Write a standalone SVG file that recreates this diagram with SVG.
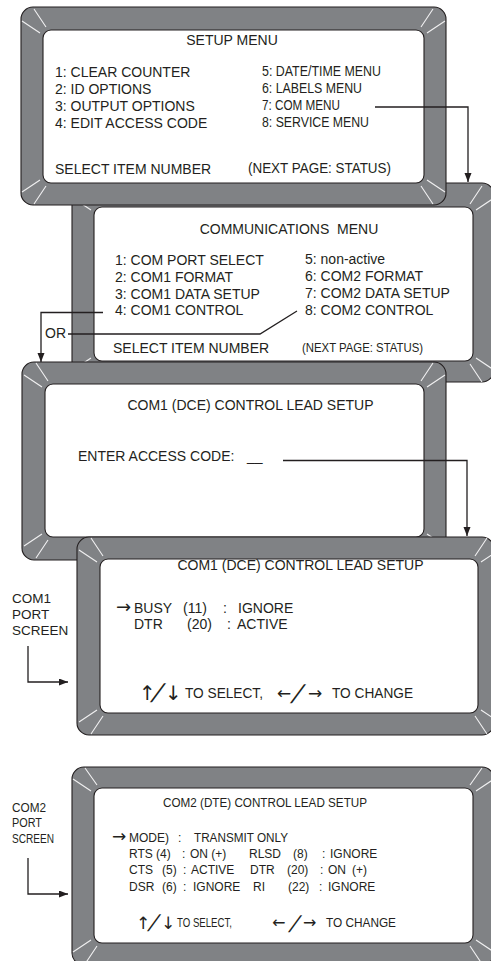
<svg xmlns="http://www.w3.org/2000/svg" width="491" height="961" viewBox="0 0 491 961">
<style>
.bz{fill:#808285;stroke:#231f20;stroke-width:1.1}
.sc{fill:#ffffff;stroke:#231f20;stroke-width:1.1}
.cl{fill:none;stroke:#f1f1f2;stroke-width:1.1}
text{font-family:"Liberation Sans",Arial,sans-serif;fill:#231f20}
.t{font-size:14px}
.s{font-size:12px}
.m{text-anchor:middle}
.ar{font-family:"DejaVu Sans",sans-serif}
.cn{fill:none;stroke:#231f20;stroke-width:1.3}
</style>
<defs>
<marker id="ah" markerUnits="userSpaceOnUse" markerWidth="10" markerHeight="8" refX="9" refY="3.5" orient="auto">
<path d="M0,0 L9,3.5 L0,7 z" fill="#231f20"/>
</marker>
</defs>
<rect width="491" height="961" fill="#ffffff"/>

<g id="screen-2">
<rect class="bz" x="72" y="183" width="422" height="199" rx="12"/>
<rect class="sc" x="94" y="207" width="379" height="154" rx="8"/>
<path class="cl" d="M97,204 L85,186 M91,210 L73,198 M470,204 L482,186 M476,210 L494,198 M97,364 L85,382 M91,358 L73,370 M470,364 L482,382 M476,358 L494,370"/>
<text class="t m" x="289" y="234" xml:space="preserve">COMMUNICATIONS  MENU</text>
<text class="t" x="115" y="265">1: COM PORT SELECT</text>
<text class="t" x="115" y="282">2: COM1 FORMAT</text>
<text class="t" x="115" y="299">3: COM1 DATA SETUP</text>
<text class="t" x="115" y="315">4: COM1 CONTROL</text>
<text class="t" x="305" y="264">5: non-active</text>
<text class="t" x="305" y="281">6: COM2 FORMAT</text>
<text class="t" x="305" y="298">7: COM2 DATA SETUP</text>
<text class="t" x="305" y="315">8: COM2 CONTROL</text>
<text class="t" x="113" y="353">SELECT ITEM NUMBER</text>
<text x="302" y="352" style="font-size:12.5px" textLength="121" lengthAdjust="spacingAndGlyphs">(NEXT PAGE: STATUS)</text>
</g>

<g id="screen-1">
<rect class="bz" x="21" y="7" width="425" height="198" rx="12"/>
<rect class="sc" x="43" y="30" width="381" height="153" rx="8"/>
<path class="cl" d="M46,27 L34,9 M40,33 L22,21 M421,27 L433,9 M427,33 L445,21 M46,186 L34,204 M40,180 L22,192 M421,186 L433,204 M427,180 L445,192"/>
<text class="t m" x="232" y="45">SETUP MENU</text>
<text class="t" x="55" y="77">1: CLEAR COUNTER</text>
<text class="t" x="55" y="94">2: ID OPTIONS</text>
<text class="t" x="55" y="111">3: OUTPUT OPTIONS</text>
<text class="t" x="55" y="128">4: EDIT ACCESS CODE</text>
<text class="t" x="262" y="76" textLength="119" lengthAdjust="spacingAndGlyphs">5: DATE/TIME MENU</text>
<text class="t" x="262" y="93" textLength="100" lengthAdjust="spacingAndGlyphs">6: LABELS MENU</text>
<text class="t" x="262" y="110" textLength="78" lengthAdjust="spacingAndGlyphs">7: COM MENU</text>
<text class="t" x="262" y="127" textLength="107" lengthAdjust="spacingAndGlyphs">8: SERVICE MENU</text>
<text class="t" x="55" y="174">SELECT ITEM NUMBER</text>
<text class="t" x="248" y="172.5" textLength="143" lengthAdjust="spacingAndGlyphs">(NEXT PAGE: STATUS)</text>
</g>

<g id="screen-3">
<rect class="bz" x="22" y="362" width="424" height="198" rx="12"/>
<rect class="sc" x="45" y="384" width="379" height="153" rx="8"/>
<path class="cl" d="M48,381 L36,363 M42,387 L24,375 M421,381 L433,363 M427,387 L445,375 M48,540 L36,558 M42,534 L24,546 M421,540 L433,558 M427,534 L445,546"/>
<text class="t m" x="250.5" y="410">COM1 (DCE) CONTROL LEAD SETUP</text>
<text class="t" y="461"><tspan x="78">ENTER ACCESS CODE:</tspan><tspan x="247">__</tspan></text>
</g>

<g id="screen-4">
<rect class="bz" x="77" y="537" width="417" height="198" rx="12"/>
<rect class="sc" x="100" y="559" width="378" height="154" rx="8"/>
<path class="cl" d="M103,556 L91,538 M97,562 L79,550 M475,556 L487,538 M481,562 L499,550 M103,716 L91,734 M97,710 L79,722 M475,716 L487,734 M481,710 L499,722"/>
<text class="t m" x="300.5" y="570">COM1 (DCE) CONTROL LEAD SETUP</text>
<text class="ar" x="116" y="613" style="font-size:18px">→</text>
<text class="t" y="613"><tspan x="134">BUSY</tspan><tspan x="183">(11)</tspan><tspan x="223">:</tspan><tspan x="238">IGNORE</tspan></text>
<text class="t" y="629"><tspan x="134">DTR</tspan><tspan x="187">(20)</tspan><tspan x="227">:</tspan><tspan x="237">ACTIVE</tspan></text>
<text class="ar" y="700" style="font-size:20px"><tspan x="139">↑</tspan><tspan x="165">↓</tspan></text>
<text transform="translate(150,702) skewX(-25)" style="font-size:26px">/</text>
<text class="t" x="185" y="698" textLength="78" lengthAdjust="spacingAndGlyphs">TO SELECT,</text>
<text class="ar" y="699" style="font-size:17px"><tspan x="277">←</tspan><tspan x="308">→</tspan></text>
<text transform="translate(290,703) skewX(-25)" style="font-size:26px">/</text>
<text class="t" x="332" y="698" textLength="81" lengthAdjust="spacingAndGlyphs">TO CHANGE</text>
</g>

<g id="screen-5">
<rect class="bz" x="72" y="767" width="422" height="198" rx="12"/>
<rect class="sc" x="94" y="788" width="379" height="155" rx="8"/>
<path class="cl" d="M97,785 L85,768 M91,791 L73,779 M470,785 L482,768 M476,791 L494,779 M97,946 L85,964 M91,940 L73,952 M470,946 L482,964 M476,940 L494,952"/>
<text class="s m" x="265" y="807" textLength="204" lengthAdjust="spacingAndGlyphs">COM2 (DTE) CONTROL LEAD SETUP</text>
<text class="ar" x="112" y="842" style="font-size:17px">→</text>
<text class="s" y="842"><tspan x="129">MODE)</tspan><tspan x="178">:</tspan></text>
<text class="s" x="194" y="842" textLength="94" lengthAdjust="spacingAndGlyphs">TRANSMIT ONLY</text>
<text class="s" y="858"><tspan x="129">RTS (4)</tspan><tspan x="182">:</tspan><tspan x="190">ON (+)</tspan><tspan x="249">RLSD</tspan><tspan x="293">(8)</tspan><tspan x="322">:</tspan><tspan x="330">IGNORE</tspan></text>
<text class="s" y="874"><tspan x="129">CTS</tspan><tspan x="162">(5)</tspan><tspan x="183">:</tspan><tspan x="191">ACTIVE</tspan><tspan x="250">DTR</tspan><tspan x="287">(20)</tspan><tspan x="320">:</tspan><tspan x="328">ON</tspan><tspan x="352">(+)</tspan></text>
<text class="s" y="891"><tspan x="129">DSR</tspan><tspan x="162">(6)</tspan><tspan x="183">:</tspan><tspan x="193">IGNORE</tspan><tspan x="253">RI</tspan><tspan x="288">(22)</tspan><tspan x="319">:</tspan><tspan x="328">IGNORE</tspan></text>
<text class="s" x="177" y="927" textLength="55" lengthAdjust="spacingAndGlyphs">TO SELECT,</text>
<text class="ar" y="929" style="font-size:17px"><tspan x="136">↑</tspan><tspan x="161">↓</tspan></text>
<text transform="translate(147,931) skewX(-25)" style="font-size:23px">/</text>
<text class="ar" y="928" style="font-size:16px"><tspan x="272">←</tspan><tspan x="303">→</tspan></text>
<text transform="translate(288,932) skewX(-25)" style="font-size:23px">/</text>
<text class="s" x="326" y="927" textLength="70" lengthAdjust="spacingAndGlyphs">TO CHANGE</text>
</g>

<g id="label-com1">
<text style="font-size:13.5px" x="12" y="603">COM1</text>
<text style="font-size:13.5px" x="12" y="619">PORT</text>
<text style="font-size:13.5px" x="12" y="635">SCREEN</text>
</g>
<g id="label-com2">
<text class="s" x="12" y="812" textLength="34" lengthAdjust="spacingAndGlyphs">COM2</text>
<text class="s" x="12" y="827" textLength="30" lengthAdjust="spacingAndGlyphs">PORT</text>
<text class="s" x="12" y="843" textLength="42" lengthAdjust="spacingAndGlyphs">SCREEN</text>
</g>
<g id="label-or">
<text class="t" x="45" y="338">OR</text>
</g>

<g id="connectors">
<path class="cn" d="M375,107 H468 V182" marker-end="url(#ah)"/>
<path class="cn" d="M103,312.5 H41 V362" marker-end="url(#ah)"/>
<path class="cn" d="M68,334 H260 L297,311"/>
<path class="cn" d="M283,460.5 H467 V536" marker-end="url(#ah)"/>
<path class="cn" d="M28,646 V682 H68" marker-end="url(#ah)"/>
<path class="cn" d="M28,858 V894 H68" marker-end="url(#ah)"/>
</g>
</svg>
